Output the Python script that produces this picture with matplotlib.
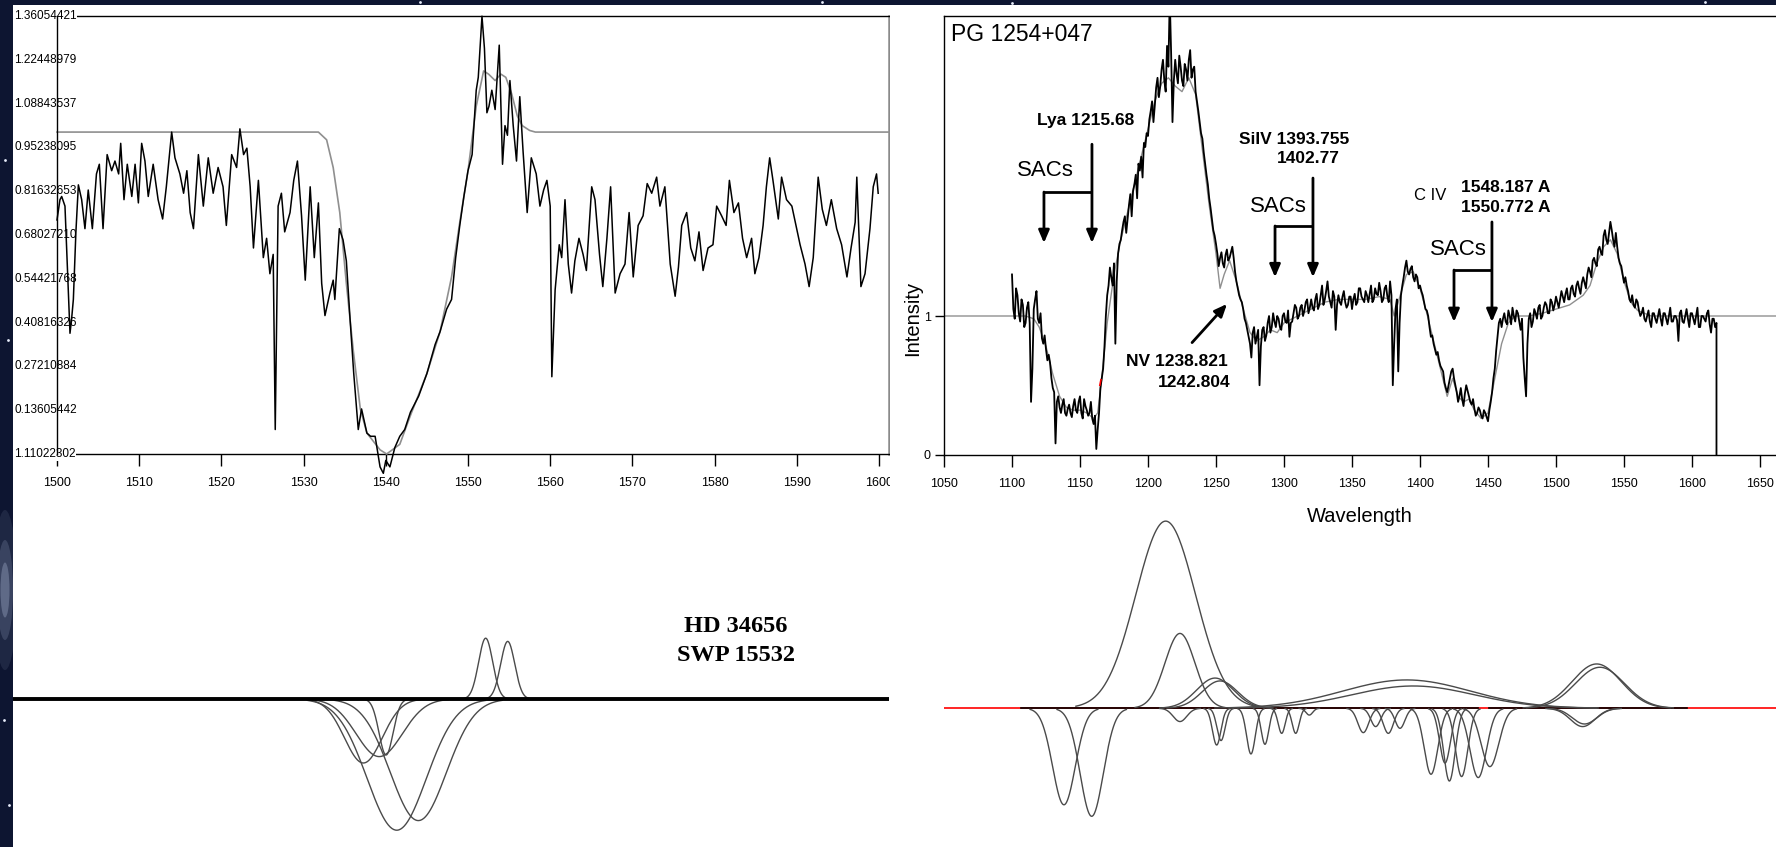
import numpy as np
import matplotlib
matplotlib.use("Agg")
import matplotlib.pyplot as plt
import matplotlib.transforms as mtransforms
from matplotlib.patches import Rectangle, Ellipse

plt.rcParams["font.family"] = ["Liberation Sans", "DejaVu Sans"]

W, H = 1776, 847

# ── HD 34656 / SWP 15532 : C IV region ────────────────────────────────────────
hd_wave = [1500.0, 1500.36, 1500.57, 1500.97, 1501.26, 1501.58, 1501.78, 1501.99, 1502.3, 1502.6,
           1503.0, 1503.4, 1503.8, 1504.3, 1504.8, 1505.15, 1505.6, 1506.1, 1506.65, 1507.05,
           1507.5, 1507.75, 1508.15, 1508.55, 1509.1, 1509.5, 1509.9, 1510.3, 1510.7, 1511.1,
           1511.7, 1512.3, 1512.85, 1513.3, 1513.95, 1514.35, 1514.95, 1515.4, 1515.8, 1516.2,
           1516.6, 1517.2, 1517.8, 1518.4, 1519.0, 1519.6, 1520.2, 1520.6, 1521.25, 1521.85,
           1522.25, 1522.7, 1523.1, 1523.5, 1523.9, 1524.5, 1525.1, 1525.5, 1525.9, 1526.3,
           1526.55, 1526.9, 1527.3, 1527.7, 1528.35, 1528.8, 1529.25, 1529.75, 1530.2, 1530.8,
           1531.3, 1531.8, 1532.2, 1532.6, 1533.2, 1533.6, 1533.8, 1534.35, 1534.8, 1535.2,
           1535.65, 1536.1, 1536.65, 1537.05, 1537.7, 1538.15, 1538.7, 1539.3, 1539.7, 1540.0,
           1540.5, 1541.1, 1541.7, 1542.3, 1543.0, 1544.0, 1545.0, 1546.0, 1546.6, 1547.4,
           1548.0, 1548.5, 1549.0, 1549.5, 1550.0, 1550.5, 1551.0, 1551.25, 1551.7, 1552.0,
           1552.3, 1552.55, 1552.9, 1553.3, 1553.8, 1554.2, 1554.5, 1554.8, 1555.1, 1555.5,
           1555.9, 1556.3, 1556.7, 1557.2, 1557.7, 1558.3, 1558.75, 1559.2, 1559.6, 1560.0,
           1560.2, 1560.6, 1561.1, 1561.4, 1561.8, 1562.2, 1562.6, 1563.0, 1563.5, 1564.0,
           1564.4, 1565.05, 1565.45, 1566.0, 1566.4, 1566.9, 1567.35, 1567.9, 1568.5, 1569.1,
           1569.6, 1570.1, 1570.7, 1571.3, 1571.8, 1572.35, 1572.95, 1573.35, 1573.95, 1574.6,
           1575.2, 1575.6, 1576.0, 1576.6, 1577.1, 1577.6, 1578.1, 1578.6, 1579.2, 1579.8,
           1580.25, 1580.85, 1581.4, 1581.8, 1582.35, 1582.9, 1583.4, 1583.9, 1584.5, 1584.9,
           1585.4, 1585.9, 1586.3, 1586.7, 1587.1, 1587.75, 1588.15, 1588.75, 1589.4, 1589.9,
           1590.4, 1591.0, 1591.5, 1592.0, 1592.6, 1593.1, 1593.6, 1594.2, 1594.85, 1595.45,
           1596.1, 1596.6, 1597.1, 1597.3, 1597.8, 1598.3, 1598.9, 1599.3, 1599.7, 1599.9]
hd_flux = [0.727, 0.79, 0.80, 0.77, 0.58, 0.375, 0.42, 0.48, 0.69, 0.836,
           0.79, 0.70, 0.82, 0.70, 0.87, 0.90, 0.70, 0.93, 0.88, 0.91,
           0.87, 0.965, 0.79, 0.90, 0.80, 0.90, 0.78, 0.965, 0.91, 0.80,
           0.90, 0.79, 0.73, 0.83, 1.00, 0.92, 0.87, 0.81, 0.88, 0.75,
           0.70, 0.93, 0.77, 0.92, 0.81, 0.89, 0.83, 0.71, 0.93, 0.89,
           1.01, 0.93, 0.95, 0.83, 0.64, 0.85, 0.61, 0.67, 0.56, 0.62,
           0.076, 0.77, 0.81, 0.69, 0.75, 0.85, 0.91, 0.74, 0.54, 0.83,
           0.61, 0.78, 0.53, 0.43, 0.50, 0.54, 0.48, 0.70, 0.665, 0.60,
           0.42, 0.25, 0.076, 0.14, 0.065, 0.055, 0.055, -0.04, -0.06, -0.02,
           -0.04, 0.02, 0.055, 0.076, 0.13, 0.18, 0.25, 0.34, 0.38, 0.45,
           0.48, 0.61, 0.71, 0.80, 0.88, 0.93, 1.13, 1.17, 1.36, 1.26,
           1.06, 1.08, 1.13, 1.07, 1.27, 0.90, 1.02, 0.99, 1.16, 1.02,
           0.91, 1.11, 0.94, 0.75, 0.92, 0.87, 0.77, 0.82, 0.85, 0.77,
           0.24, 0.51, 0.65, 0.61, 0.79, 0.59, 0.50, 0.60, 0.67, 0.62,
           0.57, 0.83, 0.79, 0.62, 0.52, 0.67, 0.83, 0.50, 0.56, 0.59,
           0.75, 0.55, 0.71, 0.74, 0.84, 0.81, 0.86, 0.77, 0.83, 0.59,
           0.49, 0.58, 0.71, 0.75, 0.64, 0.60, 0.69, 0.57, 0.64, 0.65,
           0.77, 0.74, 0.71, 0.85, 0.75, 0.78, 0.67, 0.61, 0.67, 0.56,
           0.61, 0.71, 0.83, 0.92, 0.85, 0.73, 0.86, 0.79, 0.77, 0.71,
           0.65, 0.59, 0.52, 0.61, 0.86, 0.76, 0.71, 0.79, 0.70, 0.65,
           0.55, 0.64, 0.72, 0.86, 0.52, 0.56, 0.70, 0.83, 0.87, 0.81]
hd_fit_wave = [1500.0, 1531.8, 1532.8, 1533.6, 1534.4, 1535.2, 1536.05, 1536.9, 1537.7, 1539.3,
               1540.1, 1541.7, 1543.0, 1545.0, 1546.6, 1548.0, 1549.0, 1550.0, 1551.0, 1551.9,
               1552.5, 1553.3, 1554.0, 1554.6, 1555.3, 1556.0, 1556.6, 1557.5, 1558.2, 1601.3]
hd_fit_flux = [1.0, 1.0, 0.976, 0.89, 0.75, 0.53, 0.32, 0.14, 0.065, 0.013,
               0.0, 0.03, 0.12, 0.25, 0.38, 0.55, 0.72, 0.88, 1.08, 1.19,
               1.18, 1.16, 1.18, 1.17, 1.12, 1.05, 1.02, 1.005, 1.0, 1.0]
hd_ytick_vals = [0.0, 0.13605442, 0.27210884, 0.40816326, 0.54421768, 0.68027210,
                 0.81632653, 0.95238095, 1.08843537, 1.22448979, 1.36054421]
hd_ytick_text = ["1.11022302", "0.13605442", "0.27210884", "0.40816326", "0.54421768", "0.68027210",
                 "0.81632653", "0.95238095", "1.08843537", "1.22448979", "1.36054421"]
hd_xticks = [1500, 1510, 1520, 1530, 1540, 1550, 1560, 1570, 1580, 1590, 1600]

# Gaussian components of the HD 34656 fit (centre, amplitude, sigma)
hd_comp_center = [1552.15, 1554.83, 1541.33, 1543.96, 1537.27, 1539.2, 1540.03]
hd_comp_amp = [0.19, 0.18, -0.41, -0.38, -0.20, -0.18, -0.175]
hd_comp_sigma = [0.86, 0.86, 3.6, 3.4, 2.3, 2.8, 0.85]

# ── PG 1254+047 ───────────────────────────────────────────────────────────────
# flux sampled every 1 A from 1100 A: even wavelengths, then odd wavelengths
pg_start = 1100
pg_flux_even = [1.30, 0.98, 1.15, 0.96, 1.08, 0.95, 1.10, 0.38, 1.05, 1.18,
                0.95, 0.84, 0.86, 0.68, 0.66, 0.48, 0.08, 0.42, 0.30, 0.40,
                0.28, 0.36, 0.27, 0.40, 0.30, 0.42, 0.26, 0.35, 0.28, 0.38,
                0.22, 0.04, 0.30, 0.55, 0.78, 1.15, 1.35, 1.22, 0.80, 1.45,
                1.55, 1.68, 1.60, 1.80, 1.72, 1.95, 1.85, 2.05, 2.00, 2.22,
                2.30, 2.48, 2.40, 2.65, 2.58, 2.78, 2.70, 2.95, 3.30, 2.40,
                2.85, 2.68, 2.80, 2.66, 2.78, 2.85, 2.72, 2.80, 2.55, 2.40,
                2.28, 2.10, 1.95, 1.78, 1.62, 1.52, 1.36, 1.46, 1.35, 1.48,
                1.42, 1.50, 1.32, 1.20, 1.12, 1.05, 0.95, 0.85, 0.70, 0.92,
                0.85, 0.50, 0.90, 0.82, 0.95, 0.88, 1.02, 0.92, 0.98, 0.90,
                1.02, 0.95, 0.85, 0.96, 1.08, 0.98, 1.06, 1.00, 1.10, 1.02,
                1.12, 1.04, 1.16, 1.08, 1.22, 1.12, 1.25, 1.10, 1.18, 0.90,
                1.15, 1.08, 1.18, 1.06, 1.14, 1.05, 1.16, 1.10, 1.20, 1.12,
                1.18, 1.10, 1.22, 1.12, 1.16, 1.24, 1.10, 1.20, 1.14, 1.25,
                0.50, 1.05, 0.60, 1.15, 1.28, 1.40, 1.30, 1.36, 1.25, 1.28,
                1.22, 1.15, 1.05, 1.00, 0.85, 0.80, 0.72, 0.68, 0.62, 0.52,
                0.45, 0.55, 0.62, 0.50, 0.38, 0.48, 0.35, 0.50, 0.42, 0.36,
                0.33, 0.30, 0.32, 0.26, 0.30, 0.24, 0.38, 0.55, 0.75, 0.95,
                0.92, 1.02, 0.94, 1.00, 1.06, 0.96, 1.02, 0.90, 0.70, 0.42,
                0.98, 0.92, 1.05, 0.98, 1.08, 1.00, 1.10, 1.02, 1.12, 1.04,
                1.14, 1.06, 1.18, 1.10, 1.20, 1.12, 1.22, 1.14, 1.25, 1.16,
                1.28, 1.20, 1.35, 1.28, 1.42, 1.36, 1.50, 1.44, 1.62, 1.52,
                1.68, 1.55, 1.60, 1.42, 1.36, 1.24, 1.22, 1.12, 1.15, 1.06,
                1.10, 1.00, 1.06, 0.96, 1.04, 0.92, 1.02, 0.95, 1.05, 0.93,
                1.02, 0.94, 1.06, 0.96, 1.00, 0.82, 1.04, 0.95, 1.05, 0.92,
                1.02, 0.94, 1.06, 0.92, 1.00, 0.96, 1.04, 0.88, 0.98]
pg_flux_odd = [1.05, 1.20, 1.02, 1.12, 0.92, 1.06, 0.95, 0.62, 1.12, 0.98,
               1.02, 0.80, 0.76, 0.72, 0.55, 0.45, 0.38, 0.34, 0.36, 0.30,
               0.33, 0.30, 0.35, 0.32, 0.38, 0.30, 0.40, 0.32, 0.30, 0.26,
               0.28, 0.18, 0.48, 0.62, 1.00, 1.22, 1.28, 1.38, 1.25, 1.52,
               1.62, 1.72, 1.70, 1.88, 1.90, 2.02, 2.10, 2.15, 2.25, 2.32,
               2.42, 2.55, 2.52, 2.72, 2.66, 2.85, 2.62, 2.80, 2.90, 2.70,
               2.75, 2.88, 2.70, 2.82, 2.70, 2.92, 2.78, 2.62, 2.48, 2.32,
               2.18, 2.02, 1.85, 1.70, 1.58, 1.45, 1.42, 1.38, 1.44, 1.40,
               1.46, 1.42, 1.25, 1.15, 1.10, 0.98, 0.90, 0.80, 0.88, 0.80,
               0.90, 0.78, 0.92, 0.86, 1.00, 0.92, 0.96, 1.00, 0.92, 1.00,
               0.96, 1.04, 0.95, 1.02, 1.06, 1.00, 1.08, 1.04, 1.12, 1.06,
               1.06, 1.12, 1.05, 1.15, 1.08, 1.18, 1.14, 1.06, 1.14, 1.08,
               1.10, 1.14, 1.10, 1.08, 1.14, 1.12, 1.08, 1.20, 1.14, 1.10,
               1.15, 1.16, 1.10, 1.20, 1.15, 1.18, 1.12, 1.22, 1.10, 1.15,
               0.80, 1.12, 0.95, 1.22, 1.35, 1.32, 1.34, 1.28, 1.30, 1.20,
               1.18, 1.10, 1.04, 0.92, 0.86, 0.76, 0.74, 0.64, 0.60, 0.48,
               0.50, 0.60, 0.55, 0.45, 0.42, 0.40, 0.44, 0.46, 0.38, 0.40,
               0.28, 0.34, 0.28, 0.32, 0.27, 0.32, 0.45, 0.62, 0.85, 0.98,
               0.98, 0.96, 1.04, 0.94, 1.00, 1.04, 0.96, 0.98, 0.55, 0.80,
               1.02, 0.96, 1.02, 1.06, 0.98, 1.06, 1.08, 1.02, 1.10, 1.08,
               1.10, 1.12, 1.14, 1.16, 1.12, 1.20, 1.16, 1.22, 1.20, 1.24,
               1.24, 1.30, 1.32, 1.40, 1.38, 1.48, 1.46, 1.58, 1.55, 1.60,
               1.62, 1.50, 1.50, 1.38, 1.30, 1.28, 1.18, 1.10, 1.08, 1.12,
               1.04, 1.02, 0.98, 1.00, 0.96, 1.02, 0.98, 1.00, 0.98, 1.02,
               0.98, 1.00, 0.96, 1.00, 0.97, 1.02, 0.96, 1.00, 0.98, 1.02,
               0.98, 1.00, 0.92, 1.00, 0.98, 1.02, 0.94, 0.98, 0.92]
pg_end_wave = [1618.0, 1618.0]
pg_end_flux = [0.95, 0.0]

pg_fit_wave = [1050, 1100, 1110, 1116, 1120, 1125, 1130, 1135, 1140, 1145, 1150, 1155, 1160, 1163,
               1166, 1170, 1175, 1180, 1185, 1190, 1195, 1200, 1205, 1210, 1215, 1220, 1225, 1230,
               1235, 1240, 1245, 1250, 1253, 1256, 1260, 1265, 1270, 1275, 1280, 1285, 1290, 1295,
               1300, 1310, 1320, 1330, 1340, 1350, 1360, 1370, 1378, 1381, 1384, 1390, 1395, 1400,
               1405, 1410, 1415, 1420, 1424, 1428, 1432, 1436, 1440, 1445, 1450, 1455, 1460, 1465,
               1470, 1480, 1490, 1500, 1510, 1520, 1525, 1530, 1535, 1540, 1545, 1550, 1555, 1560,
               1570, 1618, 1664]
pg_fit_flux = [1.0, 1.0, 1.0, 0.98, 0.92, 0.78, 0.58, 0.42, 0.34, 0.32, 0.32, 0.30, 0.26, 0.30,
               0.55, 0.95, 1.30, 1.55, 1.75, 1.95, 2.15, 2.35, 2.55, 2.68, 2.72, 2.66, 2.62, 2.72,
               2.60, 2.20, 1.80, 1.45, 1.20, 1.30, 1.40, 1.25, 1.05, 0.88, 0.82, 0.85, 0.90, 0.88,
               0.95, 1.00, 1.05, 1.10, 1.12, 1.12, 1.12, 1.14, 1.12, 1.00, 1.10, 1.30, 1.32, 1.20,
               1.02, 0.82, 0.62, 0.42, 0.55, 0.42, 0.38, 0.40, 0.32, 0.26, 0.30, 0.55, 0.80, 0.95,
               1.00, 1.00, 1.02, 1.05, 1.08, 1.15, 1.22, 1.38, 1.50, 1.55, 1.45, 1.25, 1.10, 1.04,
               1.00, 1.00, 1.00]
pg_xticks = [1050, 1100, 1150, 1200, 1250, 1300, 1350, 1400, 1450, 1500, 1550, 1600, 1650]

# Gaussian components of the PG 1254+047 fit (centre, amplitude, sigma)
pg_comp_center = [1213.0, 1223.5, 1249.3, 1252.9, 1223.5, 1138.2, 1158.6, 1250.5, 1253.7, 1275.7,
                  1286.0, 1298.3, 1308.6, 1318.6, 1390.2, 1395.0, 1358.3, 1367.4, 1376.7, 1385.3,
                  1408.1, 1418.4, 1421.6, 1430.6, 1442.8, 1451.4, 1529.9, 1532.3, 1519.6, 1521.0]
pg_comp_amp = [1.30, 0.52, 0.21, 0.19, -0.092, -0.67, -0.75, -0.255, -0.224, -0.317,
               -0.25, -0.174, -0.174, -0.047, 0.197, 0.155, -0.169, -0.127, -0.174, -0.139,
               -0.458, -0.38, -0.505, -0.474, -0.481, -0.405, 0.308, 0.285, -0.127, -0.109]
pg_comp_sigma = [22.0, 11.0, 13.5, 13.0, 5.0, 8.3, 8.5, 3.1, 3.0, 3.2,
                 2.8, 2.6, 2.6, 2.5, 47.0, 45.0, 4.0, 3.6, 3.8, 3.6,
                 5.0, 4.0, 4.2, 4.5, 6.0, 6.5, 18.0, 18.0, 9.0, 9.0]
pg_base_black = [(1106.6, 1442.4), (1450.9, 1596.0)]

# a few stars in the backdrop (pixel positions)
star_x = [822, 1012, 1705, 420, 5, 8, 4, 9]
star_y = [2, 3, 2, 2, 160, 340, 720, 805]

# ── Figure ────────────────────────────────────────────────────────────────────
fig = plt.figure(figsize=(W / 100, H / 100), dpi=100, facecolor="#0d1531")


def px_axes(left, top, right, bottom, z):
    return fig.add_axes([left / W, 1 - bottom / H, (right - left) / W, (bottom - top) / H], zorder=z)


bg = px_axes(0, 0, W, H, -5)
bg.set_xlim(0, W)
bg.set_ylim(H, 0)
bg.set_axis_off()
for w_, h_, a_ in [(24, 160, 0.10), (16, 100, 0.18), (9, 55, 0.3)]:
    bg.add_patch(Ellipse((5, 590), w_, h_, color="#b9c6e4", alpha=a_, lw=0))
bg.scatter(star_x, star_y, s=4, color="#e8eefc", lw=0)

fig.add_artist(Rectangle((13 / W, 0), (890 - 13) / W, (H - 5) / H, transform=fig.transFigure,
                         facecolor="white", edgecolor="none", zorder=0))
fig.add_artist(Rectangle((890 / W, 0), (W - 890) / W, (H - 5) / H, transform=fig.transFigure,
                         facecolor="white", edgecolor="none", zorder=2))

# ── top left: HD 34656 spectrum + fit ─────────────────────────────────────────
HD_PX = 8.22          # pixels per Angstrom
ax1 = px_axes(57, 16, 889, 454, 1)
ax1.set_xlim(1500, 1500 + 832 / HD_PX)
ax1.set_ylim(0, 1.36054421)
ax1.plot(hd_fit_wave, hd_fit_flux, color="#8f8f8f", lw=1.2, zorder=2.9, clip_on=False)
ax1.plot(hd_wave, hd_flux, color="black", lw=1.1, zorder=3, clip_on=False)
ax1.set_xticks(hd_xticks)
ax1.tick_params(axis="x", direction="out", length=8.6, width=1, pad=8, labelsize=9)
ax1.set_yticks([])
trans = mtransforms.blended_transform_factory(ax1.transAxes, ax1.transData)
for v, lab in zip(hd_ytick_vals, hd_ytick_text):
    ax1.text(-43 / 832, v, lab, transform=trans, ha="left", va="center", fontsize=8.5,
             bbox=dict(facecolor="white", edgecolor="none", pad=0.6), zorder=2.7, clip_on=False)
for s in ["top", "bottom", "left"]:
    ax1.spines[s].set_linewidth(1)
ax1.spines["left"].set_zorder(3.5)
ax1.spines["right"].set_color("#8a8a8a")
ax1.spines["right"].set_linewidth(1.8)

# ── bottom left: HD 34656 components ──────────────────────────────────────────
ax2 = px_axes(13, 500, 889, 847, 1)
ax2.set_xlim(1500 - 44 / HD_PX, 1500 + 832 / HD_PX)
ax2.set_ylim(-(847 - 699) / 320, (699 - 500) / 320)
ax2.set_axis_off()
for c, a, s in zip(hd_comp_center, hd_comp_amp, hd_comp_sigma):
    x = np.linspace(c - 3 * s, c + 3 * s, 200)
    ax2.plot(x, a * np.exp(-0.5 * ((x - c) / s) ** 2), color="#4a4a4a", lw=1.0)
ax2.axhline(0, color="black", lw=2.8, zorder=3)
fig.text(736 / W, 1 - 626 / H, "HD 34656", ha="center", va="center", fontsize=17.5,
         fontweight="bold", family="Liberation Serif", zorder=5)
fig.text(736 / W, 1 - 655 / H, "SWP 15532", ha="center", va="center", fontsize=17.5,
         fontweight="bold", family="Liberation Serif", zorder=5)

# ── top right: PG 1254+047 spectrum ───────────────────────────────────────────
PG_PX = 1.36          # pixels per Angstrom
PG_PY = 138.5         # pixels per intensity unit
ax3 = px_axes(944, 16, 1778, 454.5, 3)
ax3.set_xlim(1050, 1050 + 834 / PG_PX)
ax3.set_ylim(0, 438.5 / PG_PY)
n = len(pg_flux_even)
pg_wave = np.empty(2 * n)
pg_wave[0::2] = pg_start + 2 * np.arange(n)
pg_wave[1::2] = pg_start + 1 + 2 * np.arange(n)
pg_flux = np.empty(2 * n)
pg_flux[0::2] = pg_flux_even
pg_flux[1::2] = pg_flux_odd
ax3.plot(pg_fit_wave, pg_fit_flux, color="#8f8f8f", lw=1.0, zorder=2)
ax3.plot(np.r_[pg_wave, pg_end_wave], np.r_[pg_flux, pg_end_flux], color="black", lw=1.3, zorder=3)
ax3.plot([1164.6, 1165.4], [0.50, 0.54], color="red", lw=1.2, zorder=4)
ax3.set_xticks(pg_xticks)
ax3.set_yticks([0, 1])
ax3.tick_params(axis="x", direction="out", length=8.6, width=1, pad=8, labelsize=9)
ax3.tick_params(axis="y", direction="out", length=6.5, width=1, pad=3, labelsize=9)
ax3.spines["right"].set_visible(False)
for s in ["top", "bottom", "left"]:
    ax3.spines[s].set_linewidth(1)

arrow = dict(arrowstyle="-|>,head_length=0.75,head_width=0.32", lw=2, color="black",
             shrinkA=0, shrinkB=0)


def sac_bracket(x0, x1, ytop, yh, ytip):
    ax3.plot([x0, x1], [yh, yh], color="black", lw=2, solid_capstyle="butt")
    ax3.annotate("", xy=(x1, ytip), xytext=(x1, ytop), arrowprops=arrow)
    ax3.annotate("", xy=(x0, ytip), xytext=(x0, yh), arrowprops=arrow)


sac_bracket(1123.5, 1158.8, 2.24, 1.895, 1.527)
sac_bracket(1293.4, 1321.3, 1.996, 1.65, 1.28)
sac_bracket(1425.0, 1452.9, 1.679, 1.332, 0.957)
ax3.annotate("", xy=(1258.1, 1.087), xytext=(1232.4, 0.808), arrowprops=arrow)

ax3.text(1055.5, 3.036, "PG 1254+047", fontsize=16.5, ha="left", va="center")
ax3.text(1118.5, 2.408, "Lya 1215.68", fontsize=12.5, fontweight="bold", ha="left", va="center")
ax3.text(1103.5, 2.054, "SACs", fontsize=16, ha="left", va="center")
ax3.text(1267.0, 2.274, "SiIV 1393.755", fontsize=12.5, fontweight="bold", ha="left", va="center")
ax3.text(1294.5, 2.134, "1402.77", fontsize=12.5, fontweight="bold", ha="left", va="center")
ax3.text(1275.0, 1.79, "SACs", fontsize=16, ha="left", va="center")
ax3.text(1184.0, 0.671, "NV 1238.821", fontsize=12.5, fontweight="bold", ha="left", va="center")
ax3.text(1207.5, 0.523, "1242.804", fontsize=12.5, fontweight="bold", ha="left", va="center")
ax3.text(1395.8, 1.869, "C IV", fontsize=12, ha="left", va="center")
ax3.text(1430.4, 1.926, "1548.187 A", fontsize=12.5, fontweight="bold", ha="left", va="center")
ax3.text(1430.4, 1.783, "1550.772 A", fontsize=12.5, fontweight="bold", ha="left", va="center")
ax3.text(1407.0, 1.477, "SACs", fontsize=16, ha="left", va="center")

fig.text(913 / W, 1 - 318.5 / H, "Intensity", rotation=90, ha="center", va="center",
         fontsize=14.5, zorder=5)
fig.text(1360 / W, 1 - 517 / H, "Wavelength", ha="center", va="center", fontsize=14.5, zorder=5)

# ── bottom right: PG 1254+047 components ──────────────────────────────────────
ax4 = px_axes(944, 500, 1778, 847, 3)
ax4.set_xlim(1050, 1050 + 834 / PG_PX)
ax4.set_ylim(-(847 - 708.3) / 144, (708.3 - 500) / 144)
ax4.set_axis_off()
ax4.axhline(0, color="red", lw=1.2, zorder=1)
for lo, hi in pg_base_black:
    ax4.plot([lo, hi], [0, 0], color="black", lw=1.2, zorder=2)
for c, a, s in zip(pg_comp_center, pg_comp_amp, pg_comp_sigma):
    x = np.linspace(c - 3 * s, c + 3 * s, 300)
    ax4.plot(x, a * np.exp(-0.5 * ((x - c) / s) ** 2), color="#4a4a4a", lw=1.0, zorder=3)

fig.savefig("out.png", dpi=100, facecolor=fig.get_facecolor())
